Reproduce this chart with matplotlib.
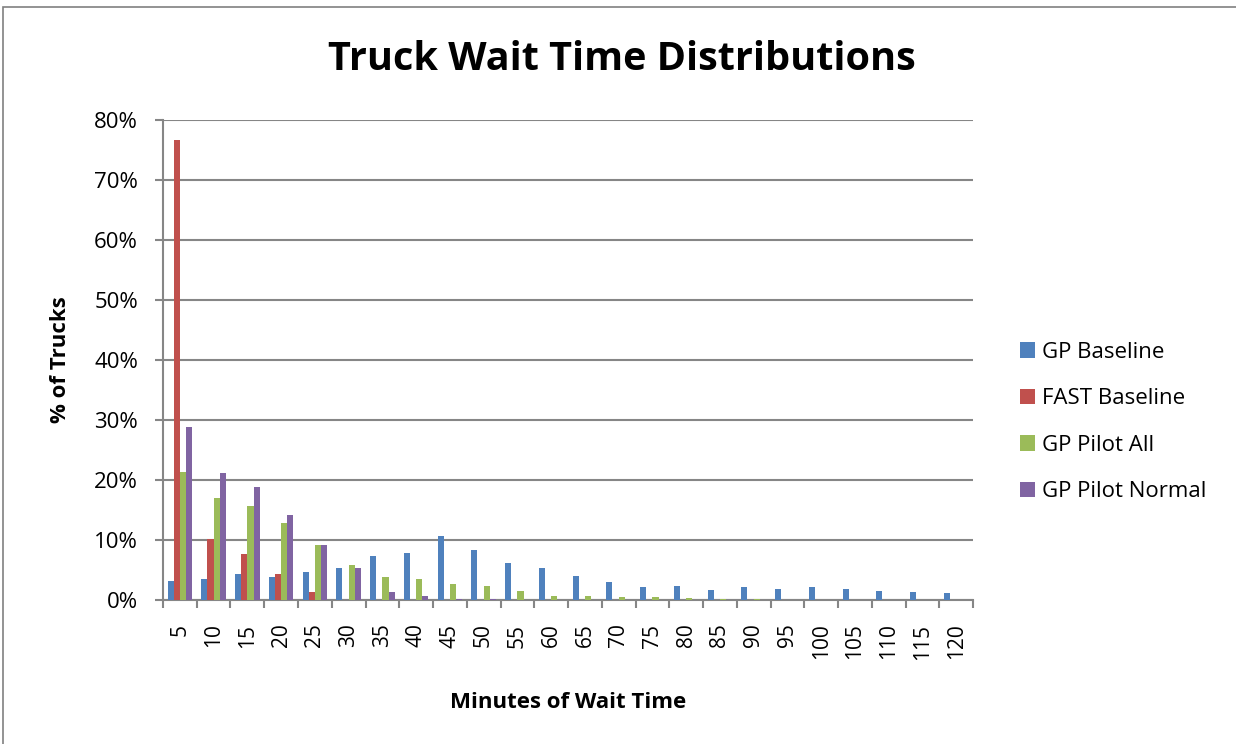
import matplotlib
matplotlib.use("Agg")
import matplotlib.pyplot as plt
import numpy as np
from matplotlib.patches import Rectangle

categories = ["5", "10", "15", "20", "25", "30", "35", "40", "45", "50", "55", "60",
              "65", "70", "75", "80", "85", "90", "95", "100", "105", "110", "115", "120"]
gp_baseline = [3.1, 3.5, 4.4, 3.8, 4.6, 5.3, 7.3, 7.9, 10.6, 8.4, 6.1, 5.4,
               4.0, 3.0, 2.2, 2.3, 1.7, 2.2, 1.9, 2.1, 1.8, 1.55, 1.3, 1.2]
fast_baseline = [76.6, 10.1, 7.6, 4.3, 1.4, 0, 0, 0, 0, 0, 0, 0,
                 0, 0, 0, 0, 0, 0, 0, 0, 0, 0, 0, 0]
gp_pilot_all = [21.4, 17.0, 15.6, 12.9, 9.1, 5.9, 3.8, 3.5, 2.7, 2.4, 1.5, 0.7,
                0.6, 0.55, 0.5, 0.33, 0.2, 0.1, 0.05, 0.03, 0.02, 0.02, 0.01, 0.01]
gp_pilot_normal = [28.9, 21.2, 18.9, 14.1, 9.1, 5.3, 1.3, 0.6, 0.2, 0.1, 0, 0,
                   0, 0, 0, 0, 0, 0, 0, 0, 0, 0, 0, 0]
series_names = ["GP Baseline", "FAST Baseline", "GP Pilot All", "GP Pilot Normal"]
colors = ["#4F81BD", "#C0504D", "#9BBB59", "#8064A2"]

plt.rcParams['font.family'] = ['Open Sans', 'DejaVu Sans']

fig = plt.figure(figsize=(12.36, 7.44), dpi=100)
ax = fig.add_axes([163/1236, 1-600/744, (973-163)/1236, 480/744])

# outer border
fig.patches.append(Rectangle((3/1236, -0.1), 1.2, 1.1 - 7/744, transform=fig.transFigure,
                             fill=False, edgecolor="#808080", linewidth=1.2))

x = np.arange(len(categories))
bw = 0.183
data = [gp_baseline, fast_baseline, gp_pilot_all, gp_pilot_normal]
for i, (vals, c, name) in enumerate(zip(data, colors, series_names)):
    ax.bar(x + (i - 1.5) * bw, vals, width=bw, color=c, label=name, zorder=3)

ax.set_xlim(-0.5, len(categories) - 0.5)
ax.set_ylim(0, 80)
ax.set_yticks(range(0, 81, 10))
ax.set_yticklabels([f"{v}%" for v in range(0, 81, 10)], fontsize=16)
ax.set_xticks(x)
ax.set_xticklabels(categories, rotation=90, fontsize=15)
ax.set_xticks(np.arange(-0.5, len(categories)), minor=True)
ax.tick_params(axis='x', which='major', length=0, pad=17)
ax.tick_params(axis='x', which='minor', length=6, width=1.5, color="#868686", direction='out')
ax.tick_params(axis='y', length=6, width=1.5, color="#868686", direction='out', pad=12)

ax.yaxis.grid(True, color="#868686", linewidth=1.5, zorder=0)
for s in ["top", "right"]:
    ax.spines[s].set_visible(False)
for s in ["left", "bottom"]:
    ax.spines[s].set_color("#868686")
    ax.spines[s].set_linewidth(1.5)

fig.text(622/1236, 1-60/744, "Truck Wait Time Distributions", ha='center', va='center',
         fontsize=28.5, fontweight='bold')
fig.text(60/1236, 1-360/744, "% of Trucks", ha='center', va='center', rotation=90,
         fontsize=16, fontweight='bold')
fig.text(568/1236, 1-703/744, "Minutes of Wait Time", ha='center', va='center',
         fontsize=16, fontweight='bold')

leg = fig.legend(loc='center left', bbox_to_anchor=(1000/1236, 1-422/744), frameon=False,
                 fontsize=16, handlelength=0.68, handleheight=0.68, labelspacing=1.15,
                 handletextpad=0.3)

fig.savefig("out.png", dpi=100)
